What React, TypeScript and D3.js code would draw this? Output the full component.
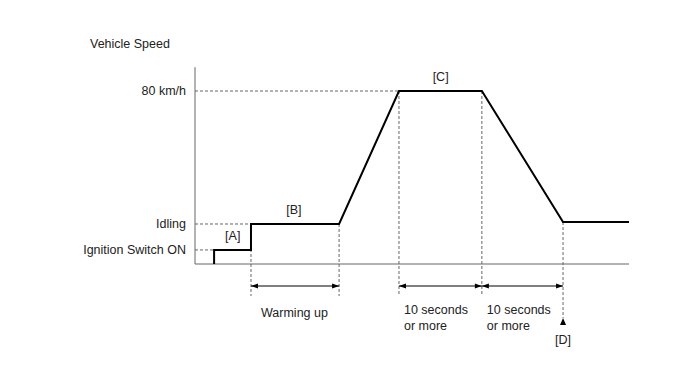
import React from "react";
import * as d3 from "d3";

// speed profile (time in arbitrary units, speed in km/h)
const profileTime = [4.4, 4.4, 12.9, 12.9, 33.2, 47, 66.1, 84.8, 100];
const profileSpeed = [0, 6.5, 6.5, 18.5, 18.5, 80, 80, 19.4, 19.4];

// y-axis levels
const levelNames = ["80 km/h", "Idling", "Ignition Switch ON"];
const levelSpeeds = [80, 18.5, 6.5];
const levelEndTimes = [47, 12.9, 4.4];

// vertical markers below the axis
const markerTimes = [12.9, 33.2, 47, 66.1];
const markerTopSpeeds = [18.5, 18.5, 80, 80];

// duration spans
const spanStarts = [12.9, 47, 66.1];
const spanEnds = [33.2, 66.1, 84.8];
const spanLabels = [["Warming up"], ["10 seconds", "or more"], ["10 seconds", "or more"]];

// bracket labels
const tagNames = ["[A]", "[B]", "[C]"];
const tagTimes = [8.7, 22.8, 56.6];
const tagSpeeds = [6.5, 18.5, 80];

const App = () => {
  const width = 688;
  const height = 366;
  const x = d3.scaleLinear().domain([0, 100]).range([195, 629]);
  const y = d3.scaleLinear().domain([0, 80]).range([264, 91]);
  const line = d3
    .line<number>()
    .x((d) => x(profileTime[d]))
    .y((d) => y(profileSpeed[d]));
  const font = "'Liberation Sans', Arial, sans-serif";
  const dash = "3,2";
  const gray = "#666";
  const arrowY = 286;
  const dEnd = profileTime[7];

  return (
    <svg
      width={width}
      height={height}
      style={{ position: "absolute", left: 0, top: 0, background: "#fff" }}
      fontFamily={font}
      fontSize={12.5}
    >
      <defs>
        <marker id="ah" viewBox="0 0 10 10" refX="10" refY="5" markerWidth="9" markerHeight="7" orient="auto-start-reverse" markerUnits="userSpaceOnUse">
          <path d="M0,1.5 L10,5 L0,8.5 Z" fill="#000" />
        </marker>
      </defs>
      <text x={90} y={48} fill="#222">Vehicle Speed</text>

      {/* axes */}
      <line x1={x(0)} x2={x(0)} y1={y(91)} y2={y(0)} stroke={gray} strokeWidth={1} />
      <line x1={x(0)} x2={x(100)} y1={y(0)} y2={y(0)} stroke={gray} strokeWidth={1} />

      {/* level guides */}
      {levelNames.map((n, i) => (
        <g key={n}>
          <line x1={x(0)} x2={x(levelEndTimes[i])} y1={y(levelSpeeds[i])} y2={y(levelSpeeds[i])} stroke={gray} strokeDasharray={dash} />
          <text x={186} y={y(levelSpeeds[i])} dy="0.35em" textAnchor="end" fill="#222">{n}</text>
        </g>
      ))}

      {/* vertical markers */}
      {markerTimes.map((t, i) => (
        <line key={i} x1={x(t)} x2={x(t)} y1={y(markerTopSpeeds[i])} y2={296} stroke={gray} strokeDasharray={dash} />
      ))}
      <line x1={x(dEnd)} x2={x(dEnd)} y1={y(profileSpeed[7])} y2={318} stroke={gray} strokeDasharray={dash} />
      <path d={`M${x(dEnd) - 3},${325} L${x(dEnd) + 3},${325} L${x(dEnd)},${318} Z`} fill="#000" />
      <text x={x(dEnd)} y={340} dy="0.35em" textAnchor="middle" fill="#222">[D]</text>

      {/* spans */}
      {spanStarts.map((s, i) => (
        <g key={i}>
          <line x1={x(s)} x2={x(spanEnds[i])} y1={arrowY} y2={arrowY} stroke="#000" strokeWidth={1.2} markerStart="url(#ah)" markerEnd="url(#ah)" />
          {spanLabels[i].map((l, j) => (
            <text key={j} x={i === 0 ? 261 : x(s) + 5} y={(i === 0 ? 313 : 310) + j * 16} dy="0.35em" fill="#222">{l}</text>
          ))}
        </g>
      ))}

      {/* profile */}
      <path d={line(d3.range(profileTime.length)) ?? ""} fill="none" stroke="#000" strokeWidth={2} strokeLinejoin="miter" />

      {tagNames.map((n, i) => (
        <text key={n} x={x(tagTimes[i])} y={y(tagSpeeds[i]) - 14} dy="0.35em" textAnchor="middle" fill="#222">{n}</text>
      ))}
    </svg>
  );
};

export default App;
